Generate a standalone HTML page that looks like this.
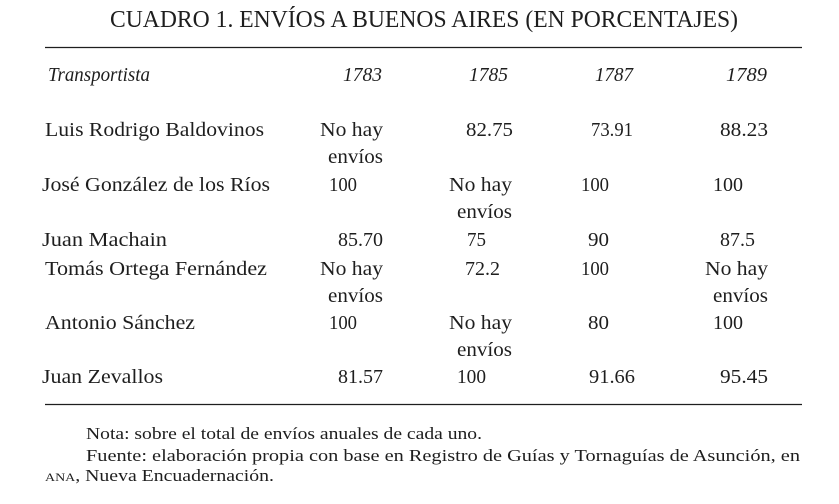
<!DOCTYPE html>
<html>
<head>
<meta charset="utf-8">
<style>
  html,body{margin:0;padding:0;background:#fff;}
  svg{display:block;}
  svg, text{font-family:"Liberation Serif","Times New Roman",Times,"DejaVu Serif","Noto Serif CJK SC",serif;fill:#1e1e1e;}
  .r{font-size:20px;}
  .i{font-size:20px;font-style:italic;}
  .n{font-size:17px;}
</style>
</head>
<body>
<svg width="839" height="504" viewBox="0 0 839 504" xmlns="http://www.w3.org/2000/svg" font-family="Liberation Serif, Times New Roman, DejaVu Serif, Noto Serif CJK SC, serif">
  <rect width="839" height="504" fill="#fff"/>
  <text x="110" y="27" font-size="24" textLength="628" lengthAdjust="spacingAndGlyphs">CUADRO 1. ENVÍOS A BUENOS AIRES (EN PORCENTAJES)</text>
  <line x1="45" y1="47.5" x2="802" y2="47.5" stroke="#1e1e1e" stroke-width="1.2"/>

  <text class="i" x="48" y="81" textLength="102" lengthAdjust="spacingAndGlyphs">Transportista</text>
  <text class="i" x="343" y="81" textLength="39" lengthAdjust="spacingAndGlyphs">1783</text>
  <text class="i" x="469" y="81" textLength="39" lengthAdjust="spacingAndGlyphs">1785</text>
  <text class="i" x="595" y="81" textLength="38" lengthAdjust="spacingAndGlyphs">1787</text>
  <text class="i" x="726" y="81" textLength="41" lengthAdjust="spacingAndGlyphs">1789</text>

  <!-- Row 1 -->
  <text class="r" x="45" y="136" textLength="219" lengthAdjust="spacingAndGlyphs">Luis Rodrigo Baldovinos</text>
  <text class="r" x="320" y="136" textLength="63" lengthAdjust="spacingAndGlyphs">No hay</text>
  <text class="r" x="328" y="163" textLength="55" lengthAdjust="spacingAndGlyphs">envíos</text>
  <text class="r" x="466" y="136" textLength="47" lengthAdjust="spacingAndGlyphs">82.75</text>
  <text class="r" x="591" y="136" textLength="42" lengthAdjust="spacingAndGlyphs">73.91</text>
  <text class="r" x="720" y="136" textLength="48" lengthAdjust="spacingAndGlyphs">88.23</text>

  <!-- Row 2 -->
  <text class="r" x="42" y="191" textLength="228" lengthAdjust="spacingAndGlyphs">José González de los Ríos</text>
  <text class="r" x="329" y="191" textLength="28" lengthAdjust="spacingAndGlyphs">100</text>
  <text class="r" x="449" y="191" textLength="63" lengthAdjust="spacingAndGlyphs">No hay</text>
  <text class="r" x="457" y="218" textLength="55" lengthAdjust="spacingAndGlyphs">envíos</text>
  <text class="r" x="581" y="191" textLength="28" lengthAdjust="spacingAndGlyphs">100</text>
  <text class="r" x="713" y="191" textLength="30" lengthAdjust="spacingAndGlyphs">100</text>

  <!-- Row 3 -->
  <text class="r" x="42" y="246" textLength="125" lengthAdjust="spacingAndGlyphs">Juan Machain</text>
  <text class="r" x="338" y="246" textLength="45" lengthAdjust="spacingAndGlyphs">85.70</text>
  <text class="r" x="467" y="246" textLength="19" lengthAdjust="spacingAndGlyphs">75</text>
  <text class="r" x="588" y="246" textLength="21" lengthAdjust="spacingAndGlyphs">90</text>
  <text class="r" x="720" y="246" textLength="35" lengthAdjust="spacingAndGlyphs">87.5</text>

  <!-- Row 4 -->
  <text class="r" x="45" y="275" textLength="222" lengthAdjust="spacingAndGlyphs">Tomás Ortega Fernández</text>
  <text class="r" x="320" y="275" textLength="63" lengthAdjust="spacingAndGlyphs">No hay</text>
  <text class="r" x="328" y="302" textLength="55" lengthAdjust="spacingAndGlyphs">envíos</text>
  <text class="r" x="465" y="275" textLength="35" lengthAdjust="spacingAndGlyphs">72.2</text>
  <text class="r" x="581" y="275" textLength="28" lengthAdjust="spacingAndGlyphs">100</text>
  <text class="r" x="705" y="275" textLength="63" lengthAdjust="spacingAndGlyphs">No hay</text>
  <text class="r" x="713" y="302" textLength="55" lengthAdjust="spacingAndGlyphs">envíos</text>

  <!-- Row 5 -->
  <text class="r" x="45" y="329" textLength="150" lengthAdjust="spacingAndGlyphs">Antonio Sánchez</text>
  <text class="r" x="329" y="329" textLength="28" lengthAdjust="spacingAndGlyphs">100</text>
  <text class="r" x="449" y="329" textLength="63" lengthAdjust="spacingAndGlyphs">No hay</text>
  <text class="r" x="457" y="356" textLength="55" lengthAdjust="spacingAndGlyphs">envíos</text>
  <text class="r" x="588" y="329" textLength="21" lengthAdjust="spacingAndGlyphs">80</text>
  <text class="r" x="713" y="329" textLength="30" lengthAdjust="spacingAndGlyphs">100</text>

  <!-- Row 6 -->
  <text class="r" x="42" y="383" textLength="121" lengthAdjust="spacingAndGlyphs">Juan Zevallos</text>
  <text class="r" x="338" y="383" textLength="45" lengthAdjust="spacingAndGlyphs">81.57</text>
  <text class="r" x="457" y="383" textLength="29" lengthAdjust="spacingAndGlyphs">100</text>
  <text class="r" x="589" y="383" textLength="46" lengthAdjust="spacingAndGlyphs">91.66</text>
  <text class="r" x="720" y="383" textLength="48" lengthAdjust="spacingAndGlyphs">95.45</text>

  <line x1="45" y1="404.5" x2="802" y2="404.5" stroke="#1e1e1e" stroke-width="1.2"/>

  <!-- Notes -->
  <text class="n" x="86" y="439" textLength="396" lengthAdjust="spacingAndGlyphs">Nota: sobre el total de envíos anuales de cada uno.</text>
  <text class="n" x="86" y="461" textLength="714" lengthAdjust="spacingAndGlyphs">Fuente: elaboración propia con base en Registro de Guías y Tornaguías de Asunción, en</text>
  <text class="n" x="45" y="481" textLength="229" lengthAdjust="spacingAndGlyphs"><tspan font-size="12">ANA</tspan>, Nueva Encuadernación.</text>
</svg>
</body>
</html>
